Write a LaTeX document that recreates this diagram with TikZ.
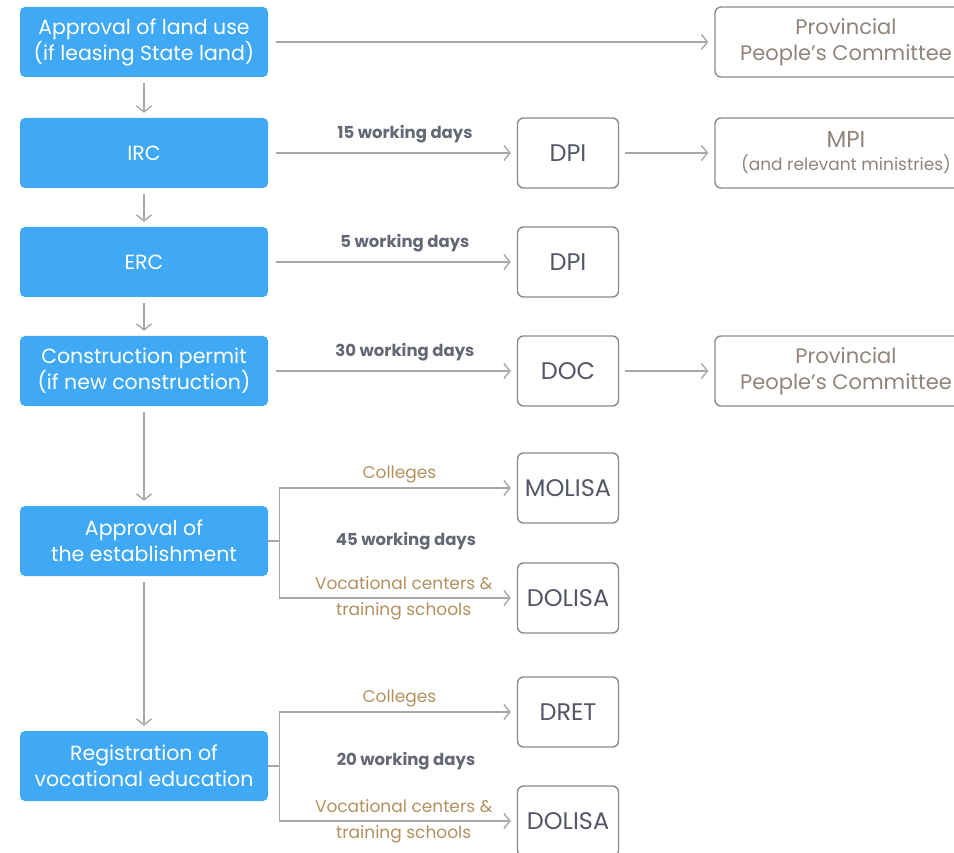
\documentclass[tikz,border=0pt]{standalone}
\usepackage{fontspec}
\setmainfont{Poppins}
\usetikzlibrary{arrows.meta}

\definecolor{stepblue}{HTML}{3FA9F5}
\definecolor{linegray}{HTML}{A8A8A8}
\definecolor{boxgray}{HTML}{8C8C8C}
\definecolor{tan}{HTML}{B3905F}
\definecolor{darktext}{HTML}{535766}
\definecolor{softtext}{HTML}{8F857A}

\tikzset{
  stepbox/.style={rectangle, rounded corners=5pt, fill=stepblue, text=white,
    minimum width=248pt, minimum height=70pt, align=center, inner sep=0pt,
    font=\fontsize{20.5}{26}\selectfont},
  officebox/.style={rectangle, rounded corners=6pt, draw=boxgray, line width=1.4pt,
    fill=white, text=darktext, minimum width=101pt, minimum height=70pt,
    inner sep=0pt, font=\fontsize{24}{26}\selectfont},
  widebox/.style={officebox, minimum width=262pt, text=softtext, align=center,
    font=\fontsize{21}{26}\selectfont},
  flow/.style={draw=linegray, line width=1.4pt},
  flowarrow/.style={flow, -{Straight Barb[length=6pt,width=15pt]}},
  days/.style={text=darktext!90, font=\fontsize{16.5}{18}\bfseries\selectfont},
  route/.style={text=tan, align=center, font=\fontsize{17}{26}\selectfont},
}

\begin{document}
\begin{tikzpicture}[x=1pt,y=-1pt]
  \useasboundingbox (0,0) rectangle (954,853);

  %%%%% STEPS %%%%%
  \node[stepbox] (land) at (144,42)  {Approval of land use\\(if leasing State land)};
  \node[stepbox] (irc)  at (144,153) {IRC};
  \node[stepbox] (erc)  at (144,262) {ERC};
  \node[stepbox] (cons) at (144,371) {Construction permit\\(if new construction)};
  \node[stepbox] (est)  at (144,541) {Approval of\\the establishment};
  \node[stepbox] (reg)  at (144,766) {Registration of\\vocational education};

  %%%%% OFFICES %%%%%
  \node[widebox] (ppcA) at (846,42) {Provincial\\People's Committee};
  \node[officebox] (dpiA) at (568,153) {DPI};
  \node[widebox] (mpi) at (846,153) {{\fontsize{23}{24}\selectfont MPI}\\[-3pt]{\fontsize{17}{20}\selectfont(and relevant ministries)}};
  \node[officebox] (dpiB) at (568,262) {DPI};
  \node[officebox] (doc) at (568,371) {DOC};
  \node[widebox] (ppcB) at (846,371) {Provincial\\People's Committee};
  \node[officebox] (molisa) at (568,488) {MOLISA};
  \node[officebox] (dolisaA) at (568,598) {DOLISA};
  \node[officebox] (dret) at (568,712) {DRET};
  \node[officebox] (dolisaB) at (568,821) {DOLISA};

  %%%%% DOWNWARD %%%%%
  \draw[flowarrow, shorten <=6pt, shorten >=5pt] (land) -- (irc);
  \draw[flowarrow, shorten <=6pt, shorten >=5pt] (irc) -- (erc);
  \draw[flowarrow, shorten <=6pt, shorten >=5pt] (erc) -- (cons);
  \draw[flowarrow, shorten <=6pt, shorten >=5pt] (cons) -- (est);
  \draw[flowarrow, shorten <=6pt, shorten >=5pt] (est) -- (reg);

  %%%%% ACROSS %%%%%
  \draw[flowarrow, shorten <=8pt, shorten >=6pt] (land) -- (ppcA);
  \draw[flowarrow, shorten <=8pt, shorten >=6pt] (irc) -- node[days, pos=0.55, above=6pt] {15 working days} (dpiA);
  \draw[flowarrow, shorten <=6pt, shorten >=6pt] (dpiA) -- (mpi);
  \draw[flowarrow, shorten <=8pt, shorten >=6pt] (erc) -- node[days, pos=0.55, above=6pt] {5 working days} (dpiB);
  \draw[flowarrow, shorten <=8pt, shorten >=6pt] (cons) -- node[days, pos=0.55, above=6pt] {30 working days} (doc);
  \draw[flowarrow, shorten <=6pt, shorten >=6pt] (doc) -- (ppcB);

  %%%%% BRANCHES %%%%%
  \draw[flow] (est.east) -- ++(11,0) coordinate (forkA);
  \draw[flowarrow, shorten >=6pt] (forkA) |- node[route, pos=0.753, above=1pt] {Colleges} (molisa);
  \draw[flowarrow, shorten >=6pt] (forkA) |- node[route, pos=0.762] {Vocational centers \&\\training schools} (dolisaA);
  \node[days] (daysA) at (406,541) {45 working days};

  \draw[flow] (reg.east) -- ++(11,0) coordinate (forkB);
  \draw[flowarrow, shorten >=6pt] (forkB) |- node[route, pos=0.753, above=1pt] {Colleges} (dret);
  \draw[flowarrow, shorten >=6pt] (forkB) |- node[route, pos=0.762] {Vocational centers \&\\training schools} (dolisaB);
  \node[days] (daysB) at (406,761) {20 working days};
\end{tikzpicture}
\end{document}
